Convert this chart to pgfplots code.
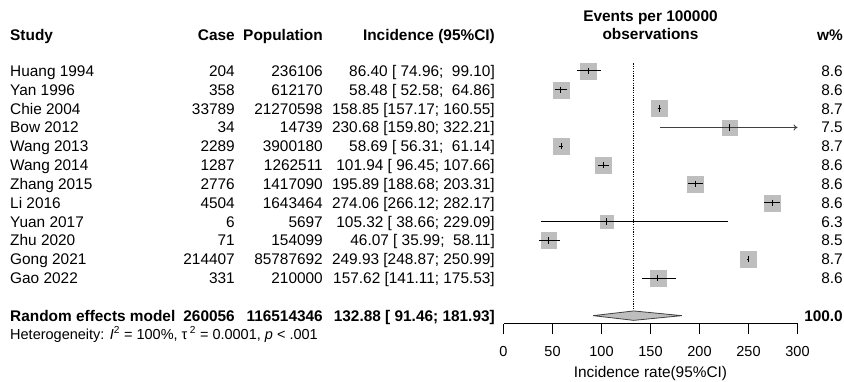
\documentclass[border=0pt]{standalone}
\usepackage{fontspec}
\setmainfont{Liberation Sans}
\usepackage{pgfplots}
\pgfplotsset{compat=1.18}
\usepackage{pgfplotstable}
\usetikzlibrary{arrows.meta}
\definecolor{sqgray}{RGB}{190,190,190}
\newcommand\fs{\fontsize{15.4}{18}\selectfont}
\newcommand\fsb{\fontsize{15.4}{18}\selectfont\bfseries}

\pgfplotstableread{
y est lo hi w
-1 86.40 74.96 99.10 8.6
-2 58.48 52.58 64.86 8.6
-3 158.85 157.17 160.55 8.7
-4 230.68 159.80 322.21 7.5
-5 58.69 56.31 61.14 8.7
-6 101.94 96.45 107.66 8.6
-7 195.89 188.68 203.31 8.6
-8 274.06 266.12 282.17 8.6
-9 105.32 38.66 229.09 6.3
-10 46.07 35.99 58.11 8.5
-11 249.93 248.87 250.99 8.7
-12 157.62 141.11 175.53 8.6
}\studies

% confidence-interval segments (Bow 2012 drawn separately with an arrow)
\pgfplotstableread{
x y
74.96 -1
99.10 -1
nan nan
52.58 -2
64.86 -2
nan nan
157.17 -3
160.55 -3
nan nan
56.31 -5
61.14 -5
nan nan
96.45 -6
107.66 -6
nan nan
188.68 -7
203.31 -7
nan nan
266.12 -8
282.17 -8
nan nan
38.66 -9
229.09 -9
nan nan
35.99 -10
58.11 -10
nan nan
248.87 -11
250.99 -11
nan nan
141.11 -12
175.53 -12
}\cis

\newcommand\Row[6]{%
 \pgfmathsetmacro\yy{-(71+(#1-1)*18.82+5.5)}%
 \node[tx,anchor=base west] at (10pt,\yy pt) {#2};
 \node[tx,anchor=base east] at (235pt,\yy pt) {#3};
 \node[tx,anchor=base east] at (323pt,\yy pt) {#4};
 \node[tx,anchor=base east] at (495pt,\yy pt) {#5};
 \node[tx,anchor=base east] at (843pt,\yy pt) {#6};
}

\begin{document}
\begin{tikzpicture}[tx/.style={inner sep=0pt,font=\fs}, txb/.style={inner sep=0pt,font=\fsb}]
\useasboundingbox (0,0) rectangle (844pt,-382pt);
\begin{axis}[
  at={(503.5pt,-323.5pt)}, anchor=south west,
  x=0.98pt, y=18.82pt,
  xmin=0, xmax=300, ymin=-14.417, ymax=0,
  axis x line=bottom, axis y line=none,
  x axis line style={-, line width=0.8pt},
  xtick={0,50,...,300}, ytick=\empty,
  tick align=outside, major tick length=10pt,
  every tick/.style={black, line width=0.8pt},
  tick label style={font=\fontsize{14.5}{17}\selectfont},
  /pgf/number format/assume math mode=true,
  xticklabel style={yshift=-9.5pt},
  xlabel={Incidence rate(95\%CI)},
  xlabel style={font=\fs, at={(axis description cs:0.5,0)}, anchor=base, yshift=-54pt},
  clip=false, clip mode=individual, unbounded coords=jump,
]
% pooled estimate line
\addplot[black, dash pattern=on 1.2pt off 1.2pt, line width=1.2pt] coordinates {(132.88,-0.6) (132.88,-14)};
% squares
\addplot[scatter, only marks, mark=square*,
  scatter/use mapped color={draw=sqgray, fill=sqgray},
  visualization depends on={8*sqrt(\thisrow{w}/8.6) \as \ms},
  scatter/@pre marker code/.append style={/tikz/mark size=\ms pt}]
  table[x=est, y=y] \studies;
% confidence intervals
\addplot[black, line width=1pt, mark=none] table[x=x, y=y] \cis;
\addplot[black!75, line width=0.9pt, -{To[length=4pt,width=6pt]}] coordinates {(159.80,-4) (300,-4)};
% point estimate ticks
\addplot[only marks, mark=|, mark size=3.2pt, mark options={line width=1pt, black}]
  table[x=est, y=y] \studies;
% diamond
\addplot[fill=sqgray, draw=black!75, line width=0.8pt] coordinates
  {(91.46,-14) (132.88,-13.75) (181.93,-14) (132.88,-14.25) (91.46,-14)};
\end{axis}

% headers
\node[txb,anchor=base] at (650.5pt,-22pt) {Events per 100000};
\node[txb,anchor=base] at (650.5pt,-40pt) {observations};
\node[txb,anchor=base west] at (10pt,-40.5pt) {Study};
\node[txb,anchor=base east] at (235pt,-40.5pt) {Case};
\node[txb,anchor=base east] at (323pt,-40.5pt) {Population};
\node[txb,anchor=base east] at (495pt,-40.5pt) {Incidence (95\%CI)};
\node[txb,anchor=base east] at (843pt,-40.5pt) {w\%};

\Row{1}{Huang 1994}{204}{236106}{86.40 [ 74.96;\ \ 99.10]}{8.6}
\Row{2}{Yan 1996}{358}{612170}{58.48 [ 52.58;\ \ 64.86]}{8.6}
\Row{3}{Chie 2004}{33789}{21270598}{158.85 [157.17; 160.55]}{8.7}
\Row{4}{Bow 2012}{34}{14739}{230.68 [159.80; 322.21]}{7.5}
\Row{5}{Wang 2013}{2289}{3900180}{58.69 [ 56.31;\ \ 61.14]}{8.7}
\Row{6}{Wang 2014}{1287}{1262511}{101.94 [ 96.45; 107.66]}{8.6}
\Row{7}{Zhang 2015}{2776}{1417090}{195.89 [188.68; 203.31]}{8.6}
\Row{8}{Li 2016}{4504}{1643464}{274.06 [266.12; 282.17]}{8.6}
\Row{9}{Yuan 2017}{6}{5697}{105.32 [ 38.66; 229.09]}{6.3}
\Row{10}{Zhu 2020}{71}{154099}{46.07 [ 35.99;\ \ 58.11]}{8.5}
\Row{11}{Gong 2021}{214407}{85787692}{249.93 [248.87; 250.99]}{8.7}
\Row{12}{Gao 2022}{331}{210000}{157.62 [141.11; 175.53]}{8.6}

% pooled row
\node[txb,anchor=base west] at (10pt,-321.5pt) {Random effects model};
\node[txb,anchor=base east] at (235pt,-321.5pt) {260056};
\node[txb,anchor=base east] at (323pt,-321.5pt) {116514346};
\node[txb,anchor=base east] at (495pt,-321.5pt) {132.88 [ 91.46; 181.93]};
\node[txb,anchor=base east] at (843pt,-321.5pt) {100.0};
\node[inner sep=0pt, font=\fontsize{14.5}{16}\selectfont, anchor=base west] at (10pt,-339pt)
  {Heterogeneity: \textit{I}\textsuperscript{2} = 100\%, τ\,\textsuperscript{2} = 0.0001, \textit{p} < .001};
\end{tikzpicture}
\end{document}
